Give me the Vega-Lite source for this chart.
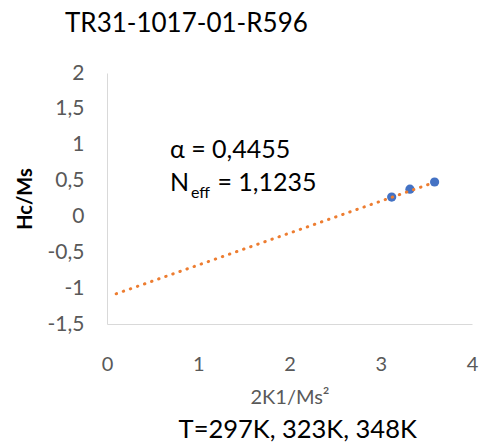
{
  "$schema": "https://vega.github.io/schema/vega-lite/v6.json",
  "width": 365,
  "height": 251,
  "autosize": {"type": "none"},
  "padding": {"left": 107, "top": 73, "right": 9, "bottom": 121},
  "background": "white",
  "config": {
    "view": {"stroke": null},
    "font": "Lato",
    "axis": {"labelOverlap": false, "labelFlush": false, "labelBound": false},
    "locale": {"number": {"decimal": ",", "thousands": ".", "grouping": [3], "currency": ["", " €"], "minus": "-"}}
  },
  "title": {
    "text": "TR31-1017-01-R596",
    "anchor": "start",
    "frame": "group",
    "dx": -42,
    "fontSize": 26,
    "fontWeight": "normal",
    "color": "#000000",
    "font": "Lato",
    "offset": 25
  },
  "datasets": {
    "points": [
      {"k": 3.12, "h": 0.27},
      {"k": 3.32, "h": 0.38},
      {"k": 3.59, "h": 0.48}
    ],
    "trend": [
      {"k": 0.1, "h": -1.079},
      {"k": 3.59, "h": 0.476}
    ]
  },
  "layer": [
    {
      "data": {"name": "points"},
      "mark": {"type": "point", "filled": true, "color": "#4472C4", "size": 85, "opacity": 1},
      "encoding": {
        "x": {
          "field": "k", "type": "quantitative",
          "scale": {"domain": [0, 4], "nice": false, "zero": false},
          "axis": {
            "title": "2K1/Ms²", "tickCount": 4, "grid": false, "ticks": false,
            "domainColor": "#D9D9D9", "labelColor": "#595959", "labelFontSize": 20,
            "labelPadding": 30, "labelFlush": false, "labelOverlap": false,
            "titleColor": "#595959", "titleFontSize": 20,
            "titleFontWeight": "normal", "titlePadding": 13, "format": "d"
          }
        },
        "y": {
          "field": "h", "type": "quantitative",
          "scale": {"domain": [-1.5, 2], "nice": false, "zero": false},
          "axis": {
            "title": "Hc/Ms", "tickCount": 7, "grid": false, "ticks": false,
            "domainColor": "#D9D9D9", "labelColor": "#595959", "labelFontSize": 21,
            "labelPadding": 23, "labelFlush": false, "labelOverlap": false,
            "titleColor": "#000000", "titleFontSize": 20,
            "titleFontWeight": "bold", "titlePadding": 12,
            "format": ".1~f"
          }
        }
      }
    },
    {
      "data": {"name": "trend"},
      "mark": {"type": "line", "color": "#ED7D31", "strokeWidth": 3, "strokeCap": "round", "strokeDash": [0.5, 7]},
      "encoding": {
        "x": {"field": "k", "type": "quantitative"},
        "y": {"field": "h", "type": "quantitative"}
      }
    },
    {
      "data": {"values": [{}]},
      "mark": {"type": "text", "align": "left", "baseline": "middle", "fontSize": 25, "color": "#000000"},
      "encoding": {"x": {"datum": 0.69}, "y": {"datum": 0.92}, "text": {"value": "α = 0,4455"}}
    },
    {
      "data": {"values": [{}]},
      "mark": {"type": "text", "align": "left", "baseline": "middle", "fontSize": 25, "color": "#000000"},
      "encoding": {"x": {"datum": 0.69}, "y": {"datum": 0.46}, "text": {"value": "N"}}
    },
    {
      "data": {"values": [{}]},
      "mark": {"type": "text", "align": "left", "baseline": "middle", "fontSize": 16, "color": "#000000"},
      "encoding": {"x": {"datum": 0.92}, "y": {"datum": 0.32}, "text": {"value": "eff"}}
    },
    {
      "data": {"values": [{}]},
      "mark": {"type": "text", "align": "left", "baseline": "middle", "fontSize": 25, "color": "#000000"},
      "encoding": {"x": {"datum": 1.21}, "y": {"datum": 0.46}, "text": {"value": "= 1,1235"}}
    },
    {
      "data": {"values": [{}]},
      "mark": {"type": "text", "align": "center", "baseline": "middle", "fontSize": 25.5, "color": "#000000"},
      "encoding": {"x": {"datum": 2.09}, "y": {"datum": -2.98}, "text": {"value": "T=297K, 323K, 348K"}}
    }
  ]
}
